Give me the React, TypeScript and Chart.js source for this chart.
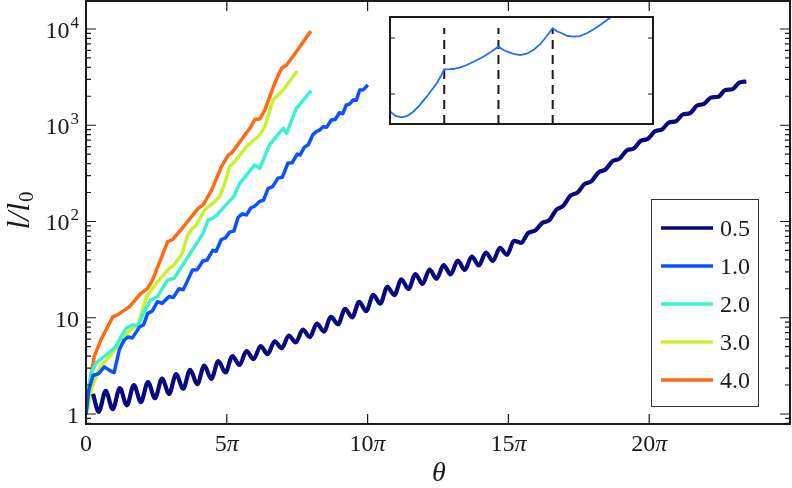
import React, { useEffect, useRef } from "react";
import { Chart, registerables } from "chart.js";

Chart.register(...registerables);

const FONT = '"Liberation Serif", "Times New Roman", serif';

// Legend labels and colours
const SERIES_LABELS = ["0.5", "1.0", "2.0", "3.0", "4.0"];
const COLORS = ["#08087f", "#0b52ff", "#3cf0d0", "#c8f22e", "#ff6a17"];
const WIDTHS = [4.2, 3.5, 3.5, 3.5, 3.5];

// x axis (theta in units of pi)
const X_TICKS = [0, 5, 10, 15, 20];
const X_TICK_NUM = ["0", "5", "10", "15", "20"];
const X_TICK_PI = ["", "π", "π", "π", "π"];
// y axis (log)
const Y_TICKS = [1, 10, 100, 1000, 10000];
const Y_TICK_BASE = ["1", "10", "10", "10", "10"];
const Y_TICK_EXP = ["", "", "2", "3", "4"];

// series 0.5
const THETA_05 = [0.25, 0.45, 0.7, 0.95, 1.2, 1.45, 1.7, 1.95, 2.2, 2.45, 2.7, 2.95, 3.2, 3.45, 3.7, 3.95, 4.2, 4.45, 4.7, 4.95, 5.2, 5.45, 5.7, 5.95, 6.2, 6.45, 6.7, 6.95, 7.2, 7.45, 7.7, 7.95, 8.2, 8.45, 8.7, 8.95, 9.2, 9.45, 9.7, 9.95, 10.2, 10.45, 10.7, 10.95, 11.2, 11.45, 11.7, 11.95, 12.2, 12.45, 12.7, 12.95, 13.2, 13.45, 13.7, 13.95, 14.2, 14.45, 14.7, 14.95, 15.2, 15.45, 15.7, 15.95, 16.2, 16.45, 16.7, 16.95, 17.2, 17.45, 17.7, 17.95, 18.2, 18.45, 18.7, 18.95, 19.2, 19.45, 19.7, 19.95, 20.2, 20.45, 20.7, 20.95, 21.2, 21.45, 21.7, 21.95, 22.2, 22.45, 22.7, 22.95, 23.2, 23.45];
const L_05 = [1.62, 1.05, 1.74, 1.12, 1.86, 1.23, 2.0, 1.33, 2.15, 1.46, 2.33, 1.62, 2.59, 1.83, 2.88, 2.04, 3.18, 2.32, 3.55, 2.7, 4.0, 3.23, 4.51, 3.71, 5.07, 4.19, 5.7, 4.83, 6.52, 5.55, 7.52, 6.31, 8.71, 7.19, 10.2, 8.55, 12.4, 10.1, 14.6, 11.7, 17.3, 14.0, 20.9, 17.2, 25.1, 19.9, 28.4, 22.5, 31.6, 25.4, 35.3, 28.2, 39.2, 31.4, 43.2, 35.0, 47.6, 39.0, 53.2, 45.1, 63.0, 60.1, 75.9, 80.4, 96.6, 103, 132, 146, 185, 200, 244, 262, 324, 347, 424, 450, 547, 574, 689, 721, 865, 900, 1069, 1102, 1297, 1334, 1603, 1671, 1945, 1977, 2323, 2371, 2767, 2851];

// series 1.0
const THETA_10 = [0, 0.1, 0.25, 0.45, 0.65, 0.85, 1.0, 1.18, 1.36, 1.5, 1.65, 1.89, 2.05, 2.19, 2.35, 2.54, 2.7, 2.95, 3.1, 3.3, 3.45, 3.6, 3.78, 3.95, 4.15, 4.3, 4.5, 4.62, 4.8, 4.95, 5.1, 5.25, 5.4, 5.55, 5.7, 5.85, 6.0, 6.17, 6.3, 6.47, 6.62, 6.82, 6.97, 7.17, 7.32, 7.5, 7.6, 7.75, 7.9, 8.05, 8.18, 8.3, 8.42, 8.55, 8.71, 8.85, 9.0, 9.12, 9.24, 9.36, 9.48, 9.6, 9.72, 9.85, 10.01];
const L_10 = [1.0, 1.78, 2.51, 2.63, 3.09, 2.82, 2.69, 4.62, 5.89, 6.31, 6.17, 7.94, 8.51, 11.1, 11.7, 14.7, 14.1, 16.6, 16.2, 20.0, 19.5, 24.0, 31.3, 31.6, 38.9, 39.8, 50.1, 49.0, 64.6, 67.6, 77.6, 79.4, 110, 120, 117, 138, 145, 162, 166, 221, 229, 282, 288, 403, 407, 501, 490, 589, 631, 794, 861, 891, 966, 955, 1135, 1148, 1349, 1318, 1622, 1660, 1828, 1820, 2323, 2344, 2618];

// series 2.0
const THETA_20 = [0, 0.05, 0.18, 0.35, 0.71, 1.06, 1.2, 1.42, 1.65, 1.85, 2.07, 2.3, 2.54, 2.9, 3.13, 3.55, 3.9, 4.16, 4.34, 4.51, 4.65, 5.05, 5.25, 5.46, 5.99, 6.17, 6.52, 7.0, 7.12, 7.47, 8.0];
const L_20 = [1.0, 1.58, 2.63, 3.37, 4.1, 5.01, 6.03, 7.76, 8.41, 8.32, 11.6, 15.3, 16.6, 24.7, 25.7, 39.8, 57.5, 75.3, 104, 108, 117, 158, 182, 249, 386, 357, 624, 929, 824, 1500, 2286];

// series 3.0
const THETA_30 = [0, 0.06, 0.2, 0.5, 0.85, 1.15, 1.5, 1.85, 2.15, 2.5, 2.95, 3.13, 3.4, 3.6, 3.75, 3.92, 4.22, 4.57, 4.75, 4.93, 5.1, 5.28, 5.7, 6.17, 6.35, 6.64, 6.76, 7.0, 7.5];
const L_30 = [1.0, 1.12, 1.86, 3.09, 3.98, 5.25, 7.08, 8.5, 16.6, 22.9, 32.4, 35.5, 45.7, 70.8, 83.2, 92.0, 132, 161, 181, 249, 372, 419, 598, 793, 968, 1828, 1982, 2323, 3664];

// series 4.0
const THETA_40 = [0, 0.12, 0.29, 0.53, 0.95, 1.12, 1.54, 1.95, 2.19, 2.36, 2.9, 3.07, 3.45, 3.98, 4.16, 4.46, 4.81, 5.05, 5.17, 5.82, 6.0, 6.17, 6.35, 6.7, 6.94, 7.12, 7.47, 7.94, 8.0];
const L_40 = [1.0, 1.91, 3.94, 5.89, 10.2, 10.7, 13.0, 17.9, 20.2, 24.5, 61.7, 64.9, 87.1, 137, 149, 212, 372, 490, 513, 929, 1148, 1161, 1439, 2729, 3890, 4227, 5808, 9162, 9441];

// inset
const INSET_X = [0, 0.1, 0.216, 0.32, 0.43, 0.55, 0.677, 0.77, 0.862, 0.94, 1.0, 1.1, 1.168, 1.3, 1.415, 1.56, 1.721, 1.86, 2.0, 2.1, 2.214, 2.3, 2.4, 2.52, 2.644, 2.76, 2.86, 3.0, 3.08, 3.168, 3.27, 3.382, 3.5, 3.629, 3.75, 3.875, 4.046, 4.15];
const INSET_Y = [0.69, 0.61, 0.584, 0.61, 0.684, 0.8, 0.952, 1.07, 1.191, 1.32, 1.441, 1.443, 1.446, 1.475, 1.518, 1.585, 1.666, 1.75, 1.845, 1.78, 1.738, 1.71, 1.696, 1.72, 1.786, 1.88, 1.995, 2.173, 2.12, 2.084, 2.04, 2.023, 2.035, 2.084, 2.15, 2.232, 2.352, 2.43];
const INSET_DASH_X = [1, 2, 3];
const INSET_DASH_TOP = 2.18;
const INSET_Y_TICKS = [1, 2];
const INSET_X_RANGE = [0, 4.85];
const INSET_Y_RANGE = [0.464, 2.375];

const SERIES = [
  [THETA_05, L_05],
  [THETA_10, L_10],
  [THETA_20, L_20],
  [THETA_30, L_30],
  [THETA_40, L_40],
];

function zip(xs: number[], ys: number[]) {
  const n = Math.min(xs.length, ys.length);
  const out: { x: number; y: number }[] = [];
  for (let i = 0; i < n; i++) out.push({ x: xs[i], y: ys[i] });
  return out;
}

const mainDecor = {
  id: "mainDecor",
  afterDatasetsDraw(chart: any) {
    const { ctx, chartArea: a, scales } = chart;
    const xs = scales.x;
    const ys = scales.y;
    ctx.save();
    ctx.strokeStyle = "#1a1a1a";
    ctx.lineWidth = 1.2;
    ctx.beginPath();
    X_TICKS.forEach((v) => {
      const p = xs.getPixelForValue(v);
      ctx.moveTo(p, a.bottom);
      ctx.lineTo(p, a.bottom - 10);
      ctx.moveTo(p, a.top);
      ctx.lineTo(p, a.top + 10);
    });
    for (let e = -1; e <= 4; e++) {
      for (let m = 1; m <= 9; m++) {
        const v = m * Math.pow(10, e);
        if (v < ys.min || v > ys.max) continue;
        const p = ys.getPixelForValue(v);
        const len = m === 1 ? 10 : 5;
        ctx.moveTo(a.left, p);
        ctx.lineTo(a.left + len, p);
        ctx.moveTo(a.right, p);
        ctx.lineTo(a.right - len, p);
      }
    }
    ctx.stroke();
    ctx.lineWidth = 2;
    ctx.strokeRect(a.left, a.top, a.right - a.left, a.bottom - a.top);

    ctx.fillStyle = "#1a1a1a";
    ctx.textBaseline = "alphabetic";
    ctx.textAlign = "left";

    // x tick labels: upright digits, italic pi
    X_TICKS.forEach((v, i) => {
      const p = xs.getPixelForValue(v);
      const num = X_TICK_NUM[i];
      const pi = X_TICK_PI[i];
      ctx.font = `24px ${FONT}`;
      const wn = ctx.measureText(num).width;
      ctx.font = `italic 24px ${FONT}`;
      const wp = pi ? ctx.measureText(pi).width : 0;
      const x0 = p - (wn + wp) / 2;
      ctx.font = `24px ${FONT}`;
      ctx.fillText(num, x0, a.bottom + 27);
      if (pi) {
        ctx.font = `italic 24px ${FONT}`;
        ctx.fillText(pi, x0 + wn, a.bottom + 27);
      }
    });

    // y tick labels with superscripts
    Y_TICKS.forEach((v, i) => {
      const p = ys.getPixelForValue(v);
      const base = Y_TICK_BASE[i];
      const exp = Y_TICK_EXP[i];
      ctx.font = `24px ${FONT}`;
      const wb = ctx.measureText(base).width;
      ctx.font = `17px ${FONT}`;
      const we = exp ? ctx.measureText(exp).width + 1 : 0;
      const x0 = a.left - 7 - we - wb;
      ctx.font = `24px ${FONT}`;
      ctx.fillText(base, x0, p + 9);
      if (exp) {
        ctx.font = `17px ${FONT}`;
        ctx.fillText(exp, x0 + wb + 1, p - 1);
      }
    });

    // x title
    ctx.font = `italic 28px ${FONT}`;
    ctx.textAlign = "center";
    ctx.fillText("θ", (a.left + a.right) / 2 + 1, 481);

    // y title
    ctx.save();
    ctx.translate(29, 211);
    ctx.rotate(-Math.PI / 2);
    ctx.font = `italic 32px ${FONT}`;
    const w1 = ctx.measureText("l/l").width;
    ctx.font = `21px ${FONT}`;
    const w2 = ctx.measureText("0").width;
    const sx = -(w1 + w2) / 2;
    ctx.textAlign = "left";
    ctx.font = `italic 32px ${FONT}`;
    ctx.fillText("l/l", sx, 0);
    ctx.font = `21px ${FONT}`;
    ctx.fillText("0", sx + w1 + 1, 4);
    ctx.restore();

    // legend
    const lx = a.right - 138.5;
    const ly = 199.5;
    const lw = 107;
    const lh = 207;
    ctx.fillStyle = "#ffffff";
    ctx.fillRect(lx, ly, lw, lh);
    ctx.lineWidth = 1;
    ctx.strokeStyle = "#333";
    ctx.strokeRect(lx, ly, lw, lh);
    SERIES_LABELS.forEach((lab, i) => {
      const yy = ly + 28.5 + i * 38;
      ctx.strokeStyle = COLORS[i];
      ctx.lineWidth = 3.5;
      ctx.beginPath();
      ctx.moveTo(lx + 9.5, yy);
      ctx.lineTo(lx + 61.5, yy);
      ctx.stroke();
      ctx.fillStyle = "#1a1a1a";
      ctx.font = `24px ${FONT}`;
      ctx.textAlign = "left";
      ctx.fillText(lab, lx + 68.5, yy + 8);
    });
    ctx.restore();
  },
};

const insetDecor = {
  id: "insetDecor",
  beforeDraw(chart: any) {
    const { ctx, width, height } = chart;
    ctx.save();
    ctx.fillStyle = "#ffffff";
    ctx.fillRect(0, 0, width, height);
    ctx.restore();
  },
  afterDatasetsDraw(chart: any) {
    const { ctx, chartArea: a, scales } = chart;
    const ys = scales.y;
    ctx.save();
    ctx.strokeStyle = "#1a1a1a";
    ctx.lineWidth = 1.2;
    ctx.beginPath();
    INSET_Y_TICKS.forEach((v) => {
      const p = ys.getPixelForValue(v);
      ctx.moveTo(a.left, p);
      ctx.lineTo(a.left + 5, p);
      ctx.moveTo(a.right, p);
      ctx.lineTo(a.right - 5, p);
    });
    ctx.stroke();
    ctx.lineWidth = 2;
    ctx.strokeRect(a.left, a.top, a.right - a.left, a.bottom - a.top);
    ctx.restore();
  },
};

export default function App() {
  const mainRef = useRef<HTMLCanvasElement>(null);
  const insetRef = useRef<HTMLCanvasElement>(null);

  useEffect(() => {
    document.body.style.margin = "0";
    const datasets = SERIES.map(([xs, ys], i) => ({
      label: SERIES_LABELS[i],
      data: zip(xs as number[], ys as number[]),
      borderColor: COLORS[i],
      backgroundColor: COLORS[i],
      borderWidth: WIDTHS[i],
      pointRadius: 0,
      fill: false,
      tension: 0,
      cubicInterpolationMode: i === 0 ? "monotone" : "default",
      borderJoinStyle: "round",
    }));

    const main = new Chart(mainRef.current as HTMLCanvasElement, {
      type: "line",
      data: { datasets: datasets as any },
      options: {
        responsive: false,
        devicePixelRatio: 1,
        animation: false,
        events: [],
        layout: { padding: { top: 1, right: 2, left: 0, bottom: 0 } },
        plugins: { legend: { display: false }, tooltip: { enabled: false } },
        scales: {
          x: {
            type: "linear",
            min: 0,
            max: 25,
            afterBuildTicks: (s: any) => {
              s.ticks = X_TICKS.map((v) => ({ value: v }));
            },
            afterFit: (s: any) => {
              s.height = 64;
            },
            grid: { display: false, drawTicks: false },
            border: { display: false },
            ticks: { display: false },
          },
          y: {
            type: "logarithmic",
            min: 0.787,
            max: 19540,
            afterBuildTicks: (s: any) => {
              s.ticks = Y_TICKS.map((v) => ({ value: v }));
            },
            afterFit: (s: any) => {
              s.width = 86;
            },
            grid: { display: false, drawTicks: false },
            border: { display: false },
            ticks: { display: false },
          },
        },
      } as any,
      plugins: [mainDecor],
    });

    const insetDatasets: any[] = [
      {
        data: zip(INSET_X, INSET_Y),
        borderColor: "#1f6ff5",
        borderWidth: 1.8,
        pointRadius: 0,
        tension: 0,
        fill: false,
      },
      ...INSET_DASH_X.map((dx) => ({
        data: [
          { x: dx, y: INSET_Y_RANGE[0] },
          { x: dx, y: INSET_DASH_TOP },
        ],
        borderColor: "#1a1a1a",
        borderWidth: 2,
        borderDash: [9, 6],
        pointRadius: 0,
        tension: 0,
        fill: false,
      })),
    ];

    const inset = new Chart(insetRef.current as HTMLCanvasElement, {
      type: "line",
      data: { datasets: insetDatasets },
      options: {
        responsive: false,
        devicePixelRatio: 1,
        animation: false,
        events: [],
        layout: { padding: 1 },
        plugins: { legend: { display: false }, tooltip: { enabled: false } },
        scales: {
          x: { type: "linear", min: INSET_X_RANGE[0], max: INSET_X_RANGE[1], display: false },
          y: { type: "linear", min: INSET_Y_RANGE[0], max: INSET_Y_RANGE[1], display: false },
        },
      } as any,
      plugins: [insetDecor],
    });

    return () => {
      main.destroy();
      inset.destroy();
    };
  }, []);

  return (
    <div style={{ position: "relative", width: 792, height: 488, background: "#ffffff" }}>
      <canvas
        ref={mainRef}
        width={792}
        height={488}
        style={{ position: "absolute", left: 0, top: 0, width: 792, height: 488 }}
      />
      <canvas
        ref={insetRef}
        width={265}
        height={109}
        style={{ position: "absolute", left: 389, top: 16, width: 265, height: 109 }}
      />
    </div>
  );
}
